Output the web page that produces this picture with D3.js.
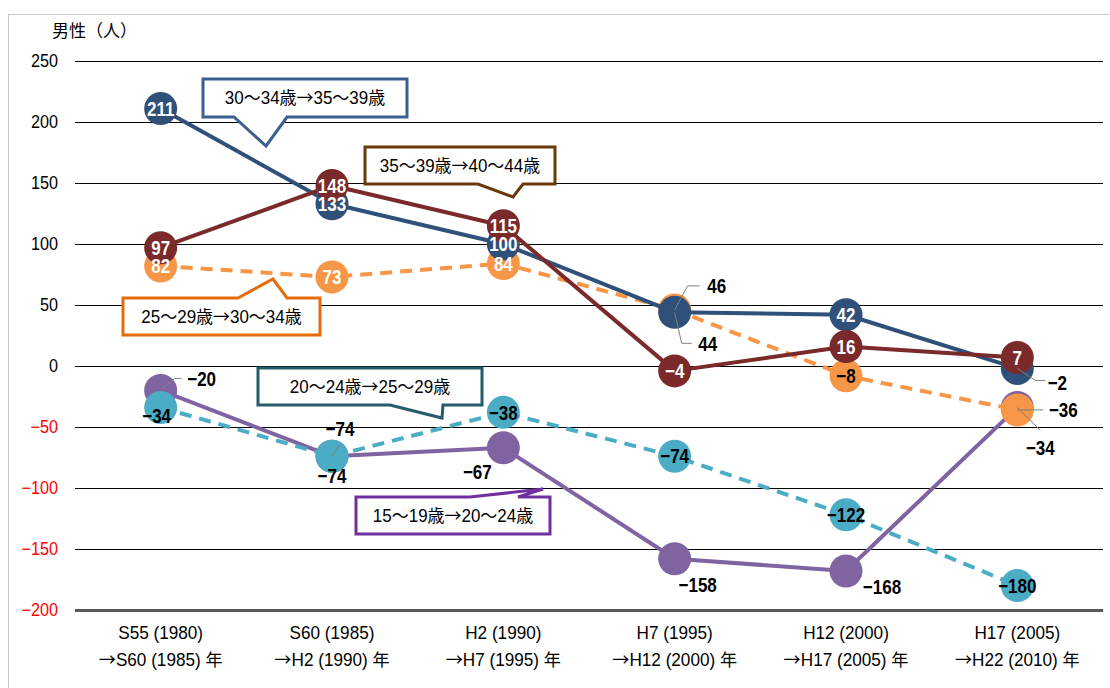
<!DOCTYPE html>
<html><head><meta charset="utf-8">
<script src="https://cdn.jsdelivr.net/npm/d3@7/dist/d3.min.js"></script>
<style>
body{margin:0;background:#fff;}
svg{display:block;}
text{font-family:"Liberation Sans","Noto Sans CJK JP",sans-serif;}
tspan.cjk{font-family:"Noto Sans CJK JP",sans-serif;}
</style></head>
<body>
<svg id="chart" width="1110" height="688"></svg>
<script>
const categoriesLine1 = ["S55 (1980)","S60 (1985)","H2 (1990)","H7 (1995)","H12 (2000)","H17 (2005)"];
const categoriesLine2 = ["→S60 (1985) 年","→H2 (1990) 年","→H7 (1995) 年","→H12 (2000) 年","→H17 (2005) 年","→H22 (2010) 年"];
const yTicks = [250,200,150,100,50,0,-50,-100,-150,-200];

const age15_19 = [-20,-74,-67,-158,-168,-34];
const age20_24 = [-34,-74,-38,-74,-122,-180];
const age25_29 = [82,73,84,46,-8,-36];
const age30_34 = [211,133,100,44,42,-2];
const age35_39 = [97,148,115,-4,16,7];

const seriesNames = ["15～19歳→20～24歳","20～24歳→25～29歳","25～29歳→30～34歳","30～34歳→35～39歳","35～39歳→40～44歳"];

(function(){
const svg = d3.select("#chart");
const pL = 75, pR = 1103, pT = 61, pB = 610;

function ctext(g, x0, y0, str, size, opts){
  opts = opts || {};
  const sx = opts.sx || 0.85;
  const t = g.append("text")
    .attr("transform",`translate(${x0},${y0}) scale(${sx},1)`)
    .attr("x",0).attr("y",0).attr("dy",opts.dy||"0.36em")
    .attr("text-anchor",opts.anchor||"middle")
    .attr("font-size",size).attr("font-weight",opts.weight||"normal")
    .attr("fill",opts.fill||"#000");
  const parts = str.split(/([→～])/).filter(p=>p.length);
  parts.forEach(p=>{
    const ts = t.append("tspan").text(p);
    if(p==="→"||p==="～") ts.attr("class","cjk");
  });
  return t;
}

// frame
svg.append("rect").attr("x",8.5).attr("y",14.5).attr("width",1200).attr("height",800)
  .attr("fill","none").attr("stroke","#c8c8c8").attr("stroke-width",1);

const x = d3.scaleBand().domain(d3.range(6)).range([pL,pR]);
const cx = i => x(i) + x.bandwidth()/2;
const y = d3.scaleLinear().domain([-200,250]).range([pB,pT]);

// gridlines
const grid = svg.append("g").attr("transform",`translate(${pL},0)`)
  .call(d3.axisLeft(y).tickValues(yTicks).tickSize(-(pR-pL)).tickFormat(""));
grid.select(".domain").remove();
grid.selectAll(".tick line").attr("stroke","#000").attr("stroke-width",1);
grid.selectAll(".tick").filter(d=>d===-200).select("line").attr("stroke","#595959").attr("stroke-width",3);

// y axis labels
const yAxis = svg.append("g").attr("transform",`translate(58,0)`)
  .call(d3.axisLeft(y).tickValues(yTicks).tickSize(0).tickPadding(0).tickFormat(d=>d<0?"−"+Math.abs(d):d));
yAxis.select(".domain").remove();
yAxis.selectAll(".tick text").attr("font-size",18)
  .attr("font-family",'"Liberation Sans",sans-serif')
  .attr("transform","scale(0.9,1)").attr("x",0)
  .attr("fill",d=>d<0?"#ff0000":"#000");

svg.append("text").attr("x",52).attr("y",37).attr("font-size",17).attr("fill","#000")
  .style("font-family",'"Noto Sans CJK JP",sans-serif').text("男性（人）");

// x axis labels
const xl = svg.append("g");
categoriesLine1.forEach((c,i)=>{
  ctext(xl, cx(i), 633, c, 17.5, {sx:0.98});
  ctext(xl, cx(i), 660, categoriesLine2[i], 17.5, {sx:0.98});
});

const series = [
  {name:seriesNames[0], values:age15_19, color:"#8064A2", dash:null},
  {name:seriesNames[1], values:age20_24, color:"#4BACC6", dash:"12,8"},
  {name:seriesNames[2], values:age25_29, color:"#F79646", dash:"12,8"},
  {name:seriesNames[3], values:age30_34, color:"#2F5078", dash:null},
  {name:seriesNames[4], values:age35_39, color:"#7A2A2A", dash:null}
];
const R = 16.5;
const line = d3.line().x((d,i)=>cx(i)).y(d=>y(d));
const marks = svg.append("g");
series.forEach(s=>{
  marks.append("path").datum(s.values).attr("d",line).attr("fill","none")
    .attr("stroke",s.color).attr("stroke-width",4).attr("stroke-dasharray",s.dash)
    .attr("stroke-linejoin","round");
  marks.selectAll(null).data(s.values).enter().append("circle")
    .attr("cx",(d,i)=>cx(i)).attr("cy",d=>y(d)).attr("r",R).attr("fill",s.color);
});

const fmt = v => v<0 ? "−"+Math.abs(v) : ""+v;
const labelSpec = {
  0:[ {dx:41,dy:-12,c:"#000",lead:[[0,0],[14,-12],[21,-12]]},
      {dx:8,dy:-27,c:"#000",lead:[[0,0],[8,-12]]},
      {dx:-26,dy:24,c:"#000"},
      {dx:23,dy:26,c:"#000"},
      {dx:36,dy:16,c:"#000"},
      {dx:23,dy:40,c:"#000",lead:[[0,0],[23,23]]} ],
  1:[ {dx:-4,dy:8,c:"#000"},
      {dx:0,dy:20,c:"#000"},
      {dx:0,dy:0,c:"#000"},
      {dx:0,dy:0,c:"#000"},
      {dx:0,dy:0,c:"#000"},
      {dx:0,dy:0,c:"#000"} ],
  2:[ {dx:0,dy:0,c:"#fff"},
      {dx:0,dy:0,c:"#fff"},
      {dx:0,dy:0,c:"#fff"},
      {dx:42,dy:-24,c:"#000",lead:[[0,0],[13,-24],[25,-24]]},
      {dx:0,dy:0,c:"#000"},
      {dx:46,dy:0,c:"#000",lead:[[0,0],[26,0]]} ],
  3:[ {dx:0,dy:0,c:"#fff"},
      {dx:0,dy:0,c:"#fff"},
      {dx:0,dy:0,c:"#fff"},
      {dx:33,dy:31,c:"#000",lead:[[0,0],[7,31],[17,31]]},
      {dx:0,dy:0,c:"#fff"},
      {dx:40,dy:14,c:"#000",lead:[[0,0],[18,12],[28,12]]} ],
  4:[ {dx:0,dy:0,c:"#fff"},
      {dx:0,dy:0,c:"#fff"},
      {dx:0,dy:0,c:"#fff"},
      {dx:0,dy:0,c:"#fff"},
      {dx:0,dy:0,c:"#fff"},
      {dx:0,dy:0,c:"#fff"} ]
};
const labels = svg.append("g");
series.forEach((s,si)=>{
  s.values.forEach((v,i)=>{
    const sp = labelSpec[si][i];
    const px = cx(i), py = y(v);
    if(sp.lead){
      labels.append("polyline").attr("points",sp.lead.map(p=>[px+p[0],py+p[1]].join(",")).join(" "))
        .attr("fill","none").attr("stroke","#7f7f7f").attr("stroke-width",1);
    }
    ctext(labels, px+sp.dx, py+sp.dy, fmt(v), 20, {sx:0.85, weight:"bold", fill:sp.c});
  });
});

// callouts
const callouts = [
  {text:seriesNames[3], color:"#3A6090", box:[203,79,407,117], pts:[[203,79],[407,79],[407,117],[287,117],[266,146],[234,117],[203,117]]},
  {text:seriesNames[4], color:"#6B3A0A", box:[365,147,555,184], pts:[[365,147],[555,147],[555,184],[523,184],[513,197],[478,184],[365,184]]},
  {text:seriesNames[2], color:"#E46C0A", box:[123,298,320,335], pts:[[123,298],[238,298],[273,279],[287,298],[320,298],[320,335],[123,335]]},
  {text:seriesNames[1], color:"#235D6C", box:[258,368,482,405], pts:[[258,368],[482,368],[482,405],[443,405],[442,418],[390,405],[258,405]]},
  {text:seriesNames[0], color:"#7030A0", box:[356,497,550,534], pts:[[356,497],[470,497],[543,489],[518,497],[550,497],[550,534],[356,534]]}
];
const co = svg.append("g");
callouts.forEach(c=>{
  co.append("polygon").attr("points",c.pts.map(p=>p.join(",")).join(" "))
    .attr("fill","#fff").attr("stroke",c.color).attr("stroke-width",3).attr("stroke-linejoin","miter");
  ctext(co, (c.box[0]+c.box[2])/2, (c.box[1]+c.box[3])/2, c.text, 17.5, {sx:0.97});
});
})();
</script>
</body></html>
